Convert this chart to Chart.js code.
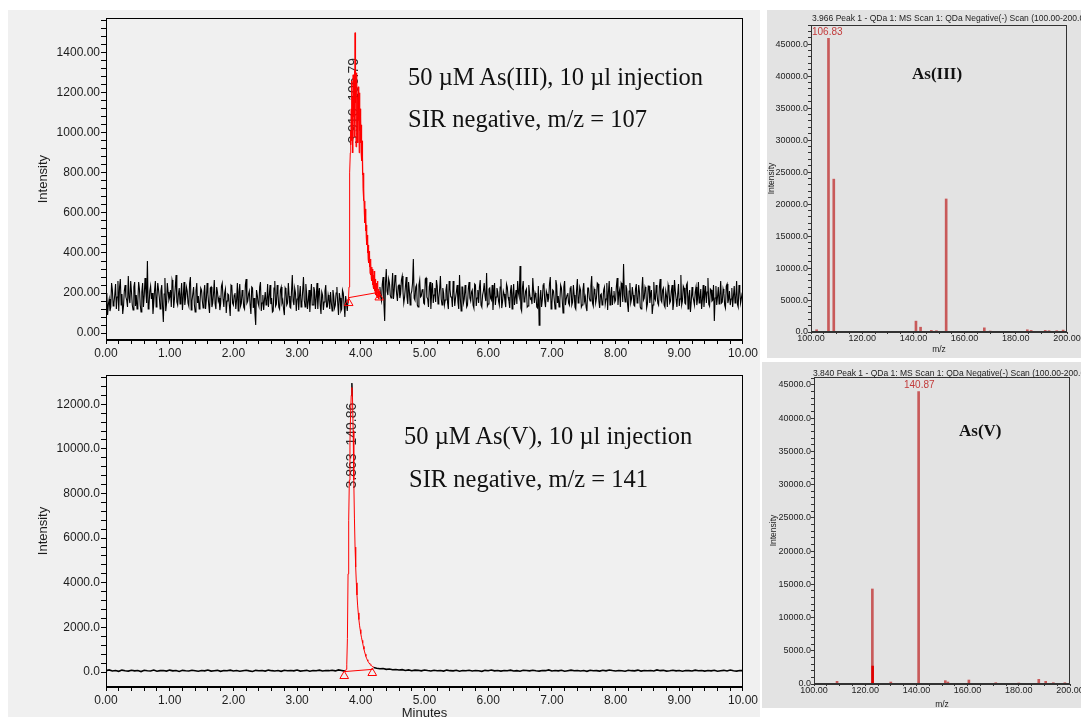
<!DOCTYPE html>
<html>
<head>
<meta charset="utf-8">
<script src="https://cdn.jsdelivr.net/npm/chart.js@4.4.0/dist/chart.umd.min.js"></script>
<style>
  html, body { margin:0; padding:0; background:#fff; width:1081px; height:717px; overflow:hidden; position:relative; font-family:"Liberation Sans", Arial, sans-serif; }
  .panel { position:absolute; }
  canvas { position:absolute; }
  .note { position:absolute; font-family:"Liberation Serif","Times New Roman",serif; font-size:24.5px; line-height:1; white-space:nowrap; color:#111; }
  .tag { position:absolute; font-family:"Liberation Serif","Times New Roman",serif; font-weight:bold; font-size:17px; line-height:1; white-space:nowrap; color:#111; }
  .stitle { position:absolute; font-size:8.5px; line-height:1; white-space:nowrap; color:#222; }
  .plab { position:absolute; font-size:10px; line-height:1; white-space:nowrap; color:#c23b3b; }
</style>
</head>
<body>
<div class="panel" style="left:8px;top:10px;width:752px;height:707px;background:#f0f0f0"></div>
<div class="panel" style="left:767px;top:10px;width:314px;height:348px;background:#e3e3e3"></div>
<div class="panel" style="left:762px;top:362px;width:319px;height:346px;background:#e3e3e3"></div>

<canvas id="chromA" width="752" height="355" style="left:8px;top:10px;width:752px;height:355px"></canvas>
<canvas id="chromB" width="752" height="351" style="left:8px;top:366px;width:752px;height:351px"></canvas>
<canvas id="specA" width="330" height="350" style="left:767px;top:10px;width:330px;height:350px"></canvas>
<canvas id="specB" width="330" height="346" style="left:762px;top:362px;width:330px;height:346px"></canvas>

<div class="note" style="left:408px;top:65px">50 µM As(III), 10 µl injection</div>
<div class="note" style="left:408px;top:107px">SIR negative, m/z = 107</div>
<div class="note" style="left:404px;top:424px">50 µM As(V), 10 µl injection</div>
<div class="note" style="left:409px;top:467px">SIR negative, m/z = 141</div>
<div class="tag" style="left:912px;top:65px">As(III)</div>
<div class="tag" style="left:959px;top:422px">As(V)</div>
<div class="stitle" style="left:812px;top:14px">3.966 Peak 1 - QDa 1: MS Scan 1: QDa Negative(-) Scan (100.00-200.00)Da</div>
<div class="stitle" style="left:813px;top:369px">3.840 Peak 1 - QDa 1: MS Scan 1: QDa Negative(-) Scan (100.00-200.00)Da</div>
<div class="plab" style="left:812px;top:27px">106.83</div>
<div class="plab" style="left:904px;top:380px">140.87</div>

<script>
// ---- As(III) chromatogram, SIR m/z 107
// baseline read on a 0.025 min grid, plus the in-between samples (…Mid) at +0.0125 min
const as3BaseStep = 0.025;
const as3BaseAStart = 0;
const as3BaseA = [
  120,90,170,130,215,150,245,180,110,270,195,135,240,165,285,150,205,115,255,190,
  160,220,105,250,185,210,360,135,235,200,150,260,175,215,120,240,55,275,145,205,
  180,130,245,170,290,140,225,190,115,255,175,210,135,280,160,230,105,250,185,150,
  215,125,240,165,195,100,230,150,265,120,205,175,145,250,130,220,160,190,85,235,
  140,200,165,110,245,150,185,120,270,160,210,95,225,175,40,190,135,255,150,115,
  205,160,130,240,175,110,260,145,195,120,230,165,90,215,150,185,125,290,140,200,
  170,115,235,150,280,130,195,160,105,245,140,210,175,120,225,95,190,155,240,130,
  165,205,110,185,140,230,90,175,120,200,80,150,165
];
const as3BaseAMid = [
  200,145,110,250,135,190,120,260,230,140,95,210,180,130,175,260,140,230,135,120,
  255,140,205,130,275,150,120,210,170,95,215,130,250,175,210,135,195,110,250,165,
  215,265,125,230,155,195,145,250,180,140,230,150,250,115,195,140,210,150,120,225,
  160,200,120,250,140,225,130,195,145,230,160,115,235,170,200,100,195,135,240,150,
  190,120,250,205,135,215,130,240,150,195,140,230,125,100,215,150,230,110,190,165,
  140,245,185,145,105,225,135,240,130,215,150,120,225,140,250,130,210,160,225,110,
  240,185,130,210,165,245,120,215,180,140,230,120,250,195,140,205,115,210,130,190,
  120,150,215,125,200,150,200,110,215,140,185,110
];
const as3BaseBStart = 4.3;
const as3BaseB = [
  230,160,280,60,320,190,250,175,300,215,260,160,240,195,285,150,230,180,255,140,
  210,370,165,240,130,265,185,220,145,275,170,230,120,250,190,155,235,175,285,140,
  200,165,245,120,220,180,260,135,205,155,290,110,230,170,195,140,255,160,215,125,
  240,175,150,265,130,210,185,300,145,225,165,115,250,180,205,140,270,155,195,130,
  230,160,210,120,245,175,145,200,335,110,260,165,220,135,200,175,275,150,185,125,
  40,215,165,250,130,195,175,280,145,210,120,240,185,160,225,100,260,170,200,140,
  235,155,190,120,270,165,215,140,250,180,110,225,160,285,135,205,175,245,125,195,
  150,230,170,115,260,185,140,210,165,275,195,130,240,345,155,220,105,250,170,190,
  135,245,160,205,120,280,175,215,145,235,190,95,255,165,200,140,270,155,225,130,
  185,240,150,210,115,265,170,195,135,290,160,225,145,250,180,105,230,165,205,140,
  255,175,120,240,190,150,275,135,215,165,60,235,180,145,260,155,200,125,245,170,
  140,225,185,150,260,130,210,175,240
];
const as3BaseBMid = [
  180,245,150,250,210,270,190,235,170,290,195,235,175,265,205,180,280,145,210,195,
  250,175,230,140,240,180,215,150,270,180,130,255,200,150,225,265,145,220,170,225,
  140,215,150,260,180,130,205,175,240,120,175,230,150,240,130,220,175,205,140,245,
  135,215,230,140,190,250,160,135,220,175,240,190,140,225,160,230,125,210,160,245,
  180,125,240,190,140,215,260,180,125,225,155,210,130,240,170,145,210,200,130,235,
  165,130,240,160,210,155,245,120,215,165,265,150,130,240,165,230,140,190,150,225,
  140,240,130,215,150,230,130,215,160,130,225,175,235,150,220,150,250,160,190,140,
  215,145,250,205,140,230,185,155,235,140,215,250,155,190,240,145,210,150,230,140,
  220,150,240,130,220,165,230,125,235,150,215,140,175,240,150,230,165,215,140,210,
  130,220,160,240,150,210,130,245,170,140,235,150,240,120,215,155,185,140,230,170,
  150,220,165,130,235,205,145,220,160,240,175,140,230,185,150,220,140,235,150,210,
  170,130,235,175,145,240,150,200
];
const as3PeakStart = 3.8, as3PeakStep = 0.005;
const as3Peak = [
  150,160,175,230,420,620,800,900,1010,940,
  1120,960,1260,1030,1180,900,1290,1080,1220,980,
  1310,1050,1500,1150,1270,930,1240,1100,1300,1020,
  1180,950,1230,1060,1150,900,1200,1010,1120,950,
  1080,900,1040,860,960,790,880,720,800,660,
  720,600,660,550,620,510,580,480,540,440,
  490,400,460,370,440,350,410,330,390,300,
  370,290,350,270,330,260,320,240,300,230,
  290,220,310,210,280,200,270,190,250,185,
  240,180,260,175,230,190,220,170,210,180,
  200
];
const as3BaselineT = [3.81, 4.29];
const as3BaselineY = [177, 204];
const as3MarkY = [150, 178];
const as3Label = { t: 3.90, y: 1160, text: '3.916  106.79' };

// ---- As(V) chromatogram, SIR m/z 141 (baseline step 0.05, peak step 0.01)
const as5BaseStep = 0.05;
const as5BaseAStart = 0;
const as5BaseA = [
  60,95,45,70,30,85,55,40,75,50, 65,20,80,55,45,90,35,60,70,40,
  85,50,65,25,75,55,45,80,60,35, 70,50,90,40,60,75,30,65,55,85,
  45,70,35,60,80,50,25,75,55,65, 40,85,60,45,70,30,80,55,65,50,
  90,40,60,75,35,70,55,85,45,65, 60,80,50,95,70,40
];
const as5BaseBStart = 4.2;
const as5BaseB = [
  200,170,145,160,120,135,100,115,90,105, 70,95,60,85,75,50,90,65,45,80,
  55,70,40,85,60,50,75,35,65,55, 80,45,70,60,30,75,55,90,50,65,
  40,70,55,85,45,60,35,75,65,50, 80,55,40,70,60,95,45,65,50,75,
  35,60,85,55,70,45,65,30,80,55, 60,40,75,50,90,65,45,70,55,35,
  80,60,50,85,40,70,55,65,45,95, 60,75,40,55,80,50,65,35,70,60,
  45,85,55,70,40,65,50,80,35,60, 75,45,90,55,40,70,60
];
const as5PeakStart = 3.75, as5PeakStep = 0.01;
const as5Peak = [
  30,50,120,350,1500,4400,6800,8600,10300,11600,
  12400,12750,12300,10800,8600,6900,5600,4700,4000,3450,
  3000,2650,2350,2100,1900,1720,1560,1420,1290,1150,
  1020,900,800,700,620,550,490,440,400,360,
  330,300,270,250,230,210
];
const as5ApexT = [3.85, 3.86, 3.87];
const as5ApexY = [12400, 12950, 12300];
const as5BaselineT = [3.75, 4.19];
const as5BaselineY = [20, 120];
const as5MarkT = [3.74, 4.18];
const as5MarkY = [-180, -45];
const as5Label = { t: 3.865, y: 10150, text: '3.863  140.86' };

// ---- mass spectra (m/z, intensity)
const specAmz = [102.2, 106.83, 108.9, 125.0, 141.0, 142.8, 147.0, 149.0, 152.8, 167.7, 170.0, 184.5, 186.0, 191.5, 193.0, 196.0, 198.5];
const specAint = [350, 45900, 23900, 100, 1700, 750, 250, 200, 20800, 650, 150, 350, 250, 250, 200, 200, 300];
const specBmz = [109.0, 122.8, 130.0, 137.0, 140.87, 143.0, 151.3, 152.3, 160.5, 171.0, 180.0, 187.8, 190.5, 193.5, 198.0];
const specBint = [400, 14300, 300, 100, 44000, 100, 500, 300, 600, 200, 150, 700, 400, 200, 200];
const specBhiMz = [122.9];
const specBhiInt = [2700];

// ---- tick positions
const timeMajor = [0,1,2,3,4,5,6,7,8,9,10];
const mzMajor = [100,120,140,160,180,200];

const series = (t0, step, vals) => vals.map((v,i) => ({ x: +(t0 + i*step).toFixed(4), y: v }));
const interleave = (t0, step, vals, mids) => {
  const out = [];
  vals.forEach((v,i) => {
    out.push({ x: +(t0 + i*step).toFixed(4), y: v });
    if (i < mids.length) out.push({ x: +(t0 + (i + 0.5)*step).toFixed(4), y: mids[i] });
  });
  return out;
};
const pairs = (xs, ys) => xs.map((x,i) => ({ x: x, y: ys[i] }));
const stepTicks = (from, to, step) => { const out = []; for (let v = from; v <= to + 1e-9; v += step) out.push({ value: +v.toFixed(6) }); return out; };
const isMult = (v, m) => Math.abs(v/m - Math.round(v/m)) < 1e-6;

const decor = {
  id: 'decor',
  beforeDatasetsDraw(chart, args, o) {
    if (!o.peakLabel) return;
    const { ctx, scales } = chart;
    const p = o.peakLabel;
    ctx.save();
    ctx.translate(scales.x.getPixelForValue(p.t), scales.y.getPixelForValue(p.y));
    ctx.rotate(-Math.PI/2);
    ctx.font = '14px "Liberation Sans", Arial, sans-serif';
    ctx.fillStyle = '#2a2a2a';
    ctx.textAlign = 'center'; ctx.textBaseline = 'middle';
    ctx.fillText(p.text, 0, 0);
    ctx.restore();
  },
  afterDraw(chart, args, o) {
    const { ctx, chartArea: a } = chart;
    ctx.save();
    ctx.strokeStyle = o.frame || '#000'; ctx.lineWidth = 1;
    ctx.strokeRect(Math.round(a.left) + 0.5, Math.round(a.top) + 0.5, Math.round(a.right - a.left) - 1, Math.round(a.bottom - a.top) - 1);
    ctx.fillStyle = o.color || '#222';
    ctx.font = o.font;
    ctx.textAlign = 'center'; ctx.textBaseline = 'middle';
    ctx.fillText(o.xTitle, (a.left + a.right)/2, a.bottom + o.xOff);
    ctx.translate(o.yX, (a.top + a.bottom)/2);
    ctx.rotate(-Math.PI/2);
    ctx.fillText(o.yTitle, 0, 0);
    ctx.restore();
  }
};

function chrom(id, cfg) {
  const font = { family: '"Liberation Sans", Arial, sans-serif', size: 12 };
  new Chart(document.getElementById(id), {
    type: 'line',
    data: { datasets: cfg.datasets },
    plugins: [decor],
    options: {
      responsive: false, animation: false, events: [],
      layout: { padding: { left: 0, top: cfg.padTop, right: 15, bottom: 0 } },
      elements: { point: { radius: 0 }, line: { tension: 0, borderWidth: 1 } },
      plugins: {
        legend: { display: false }, tooltip: { enabled: false },
        decor: { xTitle: 'Minutes', xOff: cfg.xOff, yTitle: 'Intensity', yX: 35, font: '13px "Liberation Sans", Arial, sans-serif', color: '#1c1c1c', peakLabel: cfg.label }
      },
      scales: {
        x: {
          type: 'linear', min: 0, max: 10,
          afterFit: s => { s.height = cfg.xh; },
          afterBuildTicks: s => { s.ticks = stepTicks(0, 10, 0.2); },
          ticks: { autoSkip: false, maxRotation: 0, padding: 2, color: '#1c1c1c', font,
                   callback: v => timeMajor.some(m => Math.abs(m - v) < 1e-6) ? v.toFixed(2) : '' },
          grid: { drawOnChartArea: false, color: 'transparent', tickColor: '#000', tickLength: 4 },
          border: { color: '#000' }
        },
        y: {
          min: cfg.yMin, max: cfg.yMax,
          afterFit: s => { s.width = 98; },
          afterBuildTicks: s => { s.ticks = stepTicks(0, cfg.yTop, cfg.yMinor); },
          ticks: { autoSkip: false, padding: 1, color: '#1c1c1c', font,
                   callback: v => isMult(v, cfg.yMajor) ? v.toFixed(cfg.dec) : '' },
          grid: { drawOnChartArea: false, color: 'transparent', tickColor: '#000', tickLength: 5 },
          border: { color: '#000' }
        }
      }
    }
  });
}

const black = (data, w) => ({ data, borderColor: '#000', borderWidth: w || 1, order: 2 });
const red = (data) => ({ data, borderColor: '#ff0000', borderWidth: 1, order: 1 });
const marks = (data) => ({ data, showLine: false, pointStyle: 'triangle', pointRadius: 5, pointBorderWidth: 1,
                           pointBorderColor: '#ff0000', pointBackgroundColor: 'rgba(0,0,0,0)', order: 0 });

chrom('chromA', {
  padTop: 4, xh: 25, xOff: 30, yMin: -34.5, yMax: 1572.5, yTop: 1560, yMinor: 40, yMajor: 200, dec: 2,
  label: as3Label,
  datasets: [
    black(interleave(as3BaseAStart, as3BaseStep, as3BaseA, as3BaseAMid), 1.1),
    black(interleave(as3BaseBStart, as3BaseStep, as3BaseB, as3BaseBMid), 1.1),
    red(series(as3PeakStart, as3PeakStep, as3Peak)),
    red(pairs(as3BaselineT, as3BaselineY)),
    marks(pairs(as3BaselineT, as3MarkY))
  ]
});

chrom('chromB', {
  padTop: 9, xh: 30, xOff: 26.5, yMin: -672, yMax: 13313, yTop: 13200, yMinor: 400, yMajor: 2000, dec: 1,
  label: as5Label,
  datasets: [
    black(series(as5BaseAStart, as5BaseStep, as5BaseA), 1.6),
    black(series(as5BaseBStart, as5BaseStep, as5BaseB), 1.6),
    black(pairs(as5ApexT, as5ApexY)),
    red(series(as5PeakStart, as5PeakStep, as5Peak)),
    red(pairs(as5BaselineT, as5BaselineY)),
    marks(pairs(as5MarkT, as5MarkY))
  ]
});

function spectrum(id, cfg) {
  const font = { family: '"Liberation Sans", Arial, sans-serif', size: 9 };
  new Chart(document.getElementById(id), {
    type: 'bar',
    data: { datasets: cfg.datasets },
    plugins: [decor],
    options: {
      responsive: false, animation: false, events: [],
      layout: { padding: { left: 0, top: 15, right: cfg.padRight, bottom: 0 } },
      plugins: {
        legend: { display: false }, tooltip: { enabled: false },
        decor: { xTitle: 'm/z', xOff: cfg.xOff, yTitle: 'Intensity', yX: cfg.yX, font: '8.5px "Liberation Sans", Arial, sans-serif', color: '#222', frame: '#333' }
      },
      scales: {
        x: {
          type: 'linear', min: 100, max: 200, offset: false,
          afterFit: s => { s.height = cfg.xh; },
          afterBuildTicks: s => { s.ticks = stepTicks(100, 200, 5); },
          ticks: { autoSkip: false, maxRotation: 0, padding: -1, color: '#222', font,
                   callback: v => mzMajor.includes(Math.round(v)) && isMult(v, 20) ? v.toFixed(2) : '' },
          grid: { drawOnChartArea: false, color: 'transparent', tickColor: '#333', tickLength: 2, offset: false },
          border: { color: '#333' }
        },
        y: {
          min: 0, max: cfg.yMax,
          afterFit: s => { s.width = cfg.yw; },
          afterBuildTicks: s => { s.ticks = stepTicks(0, cfg.yMax, 1000); },
          ticks: { autoSkip: false, padding: 0, color: '#222', font,
                   callback: v => isMult(v, 5000) ? v.toFixed(1) : '' },
          grid: { drawOnChartArea: false, color: 'transparent', tickColor: '#333', tickLength: 3 },
          border: { color: '#333' }
        }
      }
    }
  });
}

const sticks = (data, color, order) => ({ data, backgroundColor: color, barThickness: 2, grouped: false, order });

spectrum('specA', {
  padRight: 30, xh: 28, xOff: 18, yX: 5, yw: 44, yMax: 48000,
  datasets: [ sticks(pairs(specAmz, specAint), '#c85a5a', 1) ]
});

spectrum('specB', {
  padRight: 22, xh: 24, xOff: 21, yX: 12, yw: 52, yMax: 46200,
  datasets: [
    sticks(pairs(specBmz, specBint), '#c85a5a', 1),
    sticks(pairs(specBhiMz, specBhiInt), '#e00000', 0)
  ]
});
</script>
</body>
</html>
